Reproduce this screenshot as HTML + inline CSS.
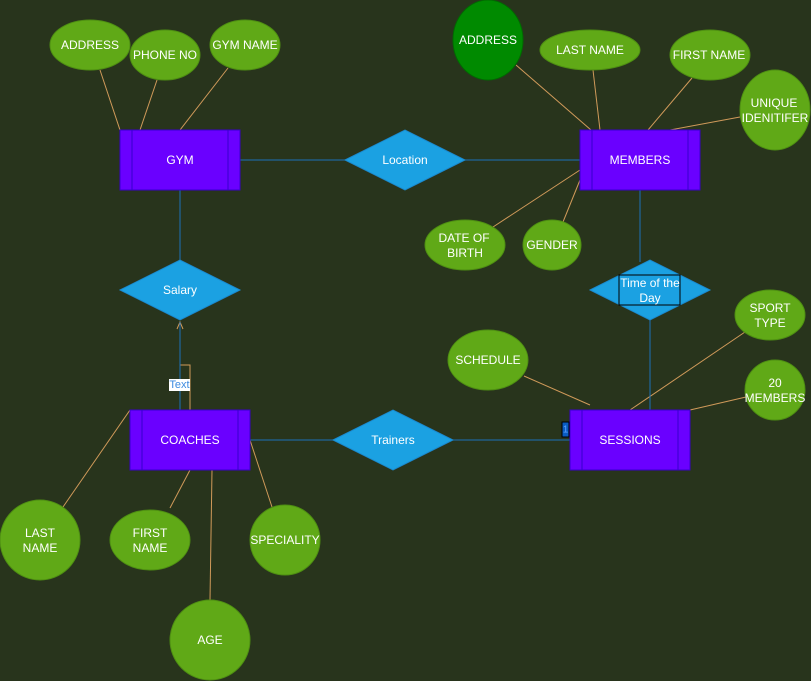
<!DOCTYPE html>
<html><head><meta charset="utf-8"><style>
html,body{margin:0;padding:0;background:#28341c;}
svg{display:block;}
text{font-family:"Liberation Sans",Arial,sans-serif;font-size:12px;fill:#fff;text-anchor:middle;dominant-baseline:central;}
.o{stroke:#d09a5a;stroke-width:1;fill:none;}
.b{stroke:#1b6fb8;stroke-width:1;fill:none;}
.e{fill:#60a917;stroke:#4e8f12;stroke-width:1;}
.r{fill:#6a00ff;stroke:#3700cc;stroke-width:1;}
.d{fill:#1ba1e2;stroke:#1b8ad0;stroke-width:1;}
</style></head><body>
<svg width="811" height="681" viewBox="0 0 811 681" xmlns="http://www.w3.org/2000/svg">
<rect width="811" height="681" fill="#28341c"/>
<!-- orange attribute lines -->
<line class="o" x1="100" y1="70" x2="120" y2="130"/>
<line class="o" x1="157" y1="80" x2="140" y2="130"/>
<line class="o" x1="228" y1="68" x2="180" y2="130"/>
<line class="o" x1="516" y1="65" x2="591" y2="130"/>
<line class="o" x1="593" y1="70" x2="600" y2="130"/>
<line class="o" x1="692" y1="78" x2="648" y2="130"/>
<line class="o" x1="740" y1="117" x2="670" y2="130"/>
<line class="o" x1="493" y1="227" x2="580" y2="170"/>
<line class="o" x1="563" y1="222" x2="580" y2="180"/>
<line class="o" x1="524" y1="376" x2="590" y2="405"/>
<line class="o" x1="745" y1="332" x2="630" y2="410"/>
<line class="o" x1="746" y1="397" x2="690" y2="410"/>
<line class="o" x1="63" y1="507" x2="130" y2="410"/>
<line class="o" x1="170" y1="508" x2="190" y2="470"/>
<line class="o" x1="272" y1="507" x2="250" y2="440"/>
<line class="o" x1="210" y1="600" x2="212" y2="470"/>
<polyline class="o" points="180,365 190,365 190,410"/>
<polyline class="o" points="177,329 180,322 183,329"/>
<!-- blue relationship lines -->
<line class="b" x1="240" y1="160" x2="345" y2="160"/>
<line class="b" x1="465" y1="160" x2="580" y2="160"/>
<line class="b" x1="180" y1="190" x2="180" y2="260"/>
<line class="b" x1="640" y1="190" x2="640" y2="262"/>
<line class="b" x1="650" y1="320" x2="650" y2="420"/>
<line class="b" x1="250" y1="440" x2="333" y2="440"/>
<line class="b" x1="453" y1="440" x2="570" y2="440"/>
<line class="b" x1="180" y1="322" x2="180" y2="410"/>
<!-- ellipses -->
<ellipse class="e" cx="90" cy="45" rx="40" ry="25"/><text x="90" y="45">ADDRESS</text>
<ellipse class="e" cx="165" cy="55" rx="35" ry="25"/><text x="165" y="55">PHONE NO</text>
<ellipse class="e" cx="245" cy="45" rx="35" ry="25"/><text x="245" y="45">GYM NAME</text>
<ellipse cx="488" cy="40" rx="35" ry="40" fill="#008a00" stroke="#006b00"/><text x="488" y="40">ADDRESS</text>
<ellipse class="e" cx="590" cy="50" rx="50" ry="20"/><text x="590" y="50">LAST NAME</text>
<ellipse class="e" cx="710" cy="55" rx="40" ry="25"/><text x="709" y="55">FIRST NAME</text>
<ellipse class="e" cx="775" cy="110" rx="35" ry="40"/><text x="774" y="103">UNIQUE</text><text x="775" y="118">IDENITIFER</text>
<ellipse class="e" cx="465" cy="245" rx="40" ry="25"/><text x="464" y="238">DATE OF</text><text x="465" y="253">BIRTH</text>
<ellipse class="e" cx="552" cy="245" rx="29" ry="25"/><text x="552" y="245">GENDER</text>
<ellipse class="e" cx="488" cy="360" rx="40" ry="30"/><text x="488" y="360">SCHEDULE</text>
<ellipse class="e" cx="770" cy="315" rx="35" ry="25"/><text x="770" y="308">SPORT</text><text x="770" y="323">TYPE</text>
<ellipse class="e" cx="775" cy="390" rx="30" ry="30"/><text x="775" y="383">20</text><text x="775" y="398">MEMBERS</text>
<ellipse class="e" cx="40" cy="540" rx="40" ry="40"/><text x="40" y="533">LAST</text><text x="40" y="548">NAME</text>
<ellipse class="e" cx="150" cy="540" rx="40" ry="30"/><text x="150" y="533">FIRST</text><text x="150" y="548">NAME</text>
<ellipse class="e" cx="285" cy="540" rx="35" ry="35"/><text x="285" y="540">SPECIALITY</text>
<ellipse class="e" cx="210" cy="640" rx="40" ry="40"/><text x="210" y="640">AGE</text>
<!-- entities -->
<rect class="r" x="120" y="130" width="120" height="60"/><line x1="132" y1="130" x2="132" y2="190" stroke="#3700cc"/><line x1="228" y1="130" x2="228" y2="190" stroke="#3700cc"/><text x="180" y="160">GYM</text>
<rect class="r" x="580" y="130" width="120" height="60"/><line x1="592" y1="130" x2="592" y2="190" stroke="#3700cc"/><line x1="688" y1="130" x2="688" y2="190" stroke="#3700cc"/><text x="640" y="160">MEMBERS</text>
<rect class="r" x="130" y="410" width="120" height="60"/><line x1="142" y1="410" x2="142" y2="470" stroke="#3700cc"/><line x1="238" y1="410" x2="238" y2="470" stroke="#3700cc"/><text x="190" y="440">COACHES</text>
<rect class="r" x="570" y="410" width="120" height="60"/><line x1="582" y1="410" x2="582" y2="470" stroke="#3700cc"/><line x1="678" y1="410" x2="678" y2="470" stroke="#3700cc"/><text x="630" y="440">SESSIONS</text>
<!-- diamonds -->
<polygon class="d" points="345,160 405,130 465,160 405,190"/><text x="405" y="160">Location</text>
<polygon class="d" points="120,290 180,260 240,290 180,320"/><text x="180" y="290">Salary</text>
<polygon class="d" points="590,290 650,260 710,290 650,320"/>
<rect x="619" y="275" width="61" height="30" fill="none" stroke="#000" stroke-width="1"/>
<text x="650" y="283">Time of the</text><text x="650" y="298">Day</text>
<polygon class="d" points="333,440 393,410 453,440 393,470"/><text x="393" y="440">Trainers</text>
<!-- labels -->
<rect x="169" y="379" width="21" height="12" fill="#fff"/>
<text x="179.5" y="385" style="font-size:11px;fill:#3d8be0">Text</text>
<rect x="562" y="422" width="7" height="15" fill="#0a5cc2" stroke="#000" stroke-width="1"/>
<text x="565.5" y="430" style="font-size:10px;fill:#5aa0ff">1</text>
</svg>
</body></html>
